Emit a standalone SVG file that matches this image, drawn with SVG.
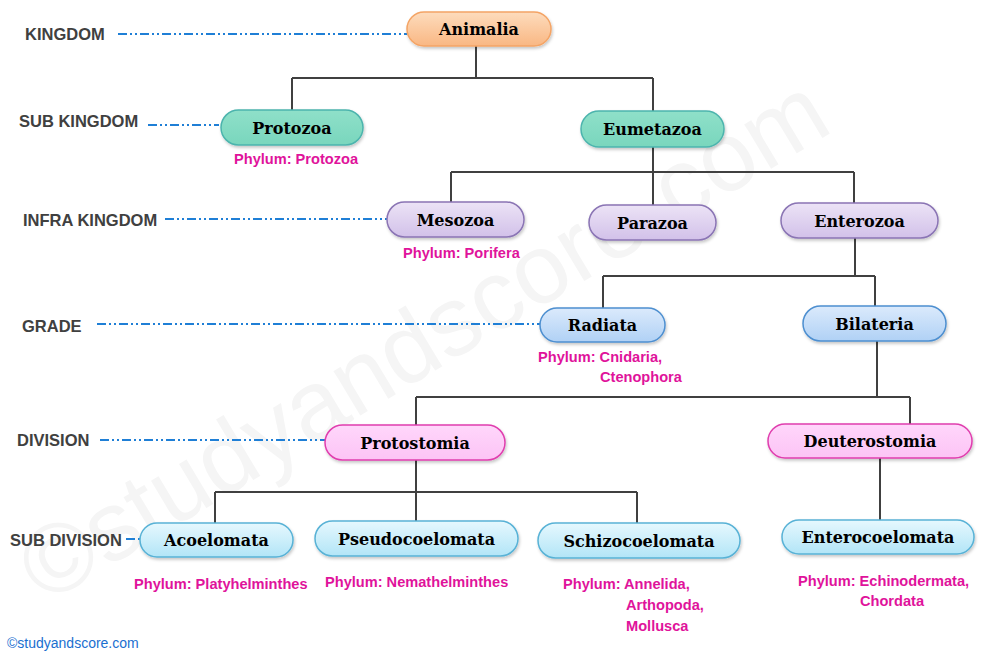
<svg xmlns="http://www.w3.org/2000/svg" width="990" height="659" viewBox="0 0 990 659">
<defs>
<linearGradient id="gOrange" x1="0" y1="0" x2="0" y2="1"><stop offset="0" stop-color="#fddcbd"/><stop offset="1" stop-color="#f9b783"/></linearGradient>
<linearGradient id="gTeal" x1="0" y1="0" x2="0" y2="1"><stop offset="0" stop-color="#8fe0c9"/><stop offset="1" stop-color="#79d6bd"/></linearGradient>
<linearGradient id="gPurple" x1="0" y1="0" x2="0" y2="1"><stop offset="0" stop-color="#ece3f6"/><stop offset="1" stop-color="#d2c1e9"/></linearGradient>
<linearGradient id="gBlue" x1="0" y1="0" x2="0" y2="1"><stop offset="0" stop-color="#dbeafc"/><stop offset="1" stop-color="#b0d1f5"/></linearGradient>
<linearGradient id="gPink" x1="0" y1="0" x2="0" y2="1"><stop offset="0" stop-color="#ffd6fb"/><stop offset="1" stop-color="#fcc4f5"/></linearGradient>
<linearGradient id="gCyan" x1="0" y1="0" x2="0" y2="1"><stop offset="0" stop-color="#e6f8fe"/><stop offset="1" stop-color="#b2e5f7"/></linearGradient>
<filter id="sh" x="-10%" y="-30%" width="120%" height="170%"><feDropShadow dx="1" dy="2" stdDeviation="1.5" flood-color="#000" flood-opacity="0.22"/></filter>
</defs>
<style>
.node rect{stroke-width:1.5;filter:url(#sh)}
.nt{font-family:"DejaVu Serif","Liberation Serif",serif;font-weight:bold;font-size:16px;fill:#000;text-anchor:middle}
.lvl{font-family:"Liberation Sans",Arial,sans-serif;font-weight:bold;font-size:16.5px;fill:#404040}
.ph{font-family:"Liberation Sans",Arial,sans-serif;font-weight:bold;font-size:14.6px;fill:#e0139b}
.dd{stroke:#1f7fd6;stroke-width:2;fill:none;stroke-dasharray:9 3 2 3 2 3}
.cn{stroke:#404040;stroke-width:2;fill:none}
.orange{fill:url(#gOrange);stroke:#f4a465}
.teal{fill:url(#gTeal);stroke:#4cb4ad}
.purple{fill:url(#gPurple);stroke:#8a74b4}
.blue{fill:url(#gBlue);stroke:#4d8fd0}
.pink{fill:url(#gPink);stroke:#e03eae}
.cyan{fill:url(#gCyan);stroke:#58b2d6}
</style>
<rect width="990" height="659" fill="#ffffff"/>
<text x="45" y="605" transform="rotate(-31 45 605)" font-family="Liberation Sans,Arial,sans-serif" font-size="98" fill="#f5f5f5">©studyandscore.com</text>

<g id="levels">
<text class="lvl" x="25" y="40">KINGDOM</text>
<text class="lvl" x="19" y="127">SUB KINGDOM</text>
<text class="lvl" x="23" y="226">INFRA KINGDOM</text>
<text class="lvl" x="22" y="332">GRADE</text>
<text class="lvl" x="17" y="446">DIVISION</text>
<text class="lvl" x="10" y="546">SUB DIVISION</text>
<path class="dd" d="M118 34H407M148 125H219M165 219H387M97 324H540M100 440H325M126 539H140"/>
</g>

<g id="connectors">
<path class="cn" d="M476 46V78M292 78H653M292 78V110M653 78V111"/>
<path class="cn" d="M653 147V172M451 172H854M451 172V202M653 172V205M854 172V203"/>
<path class="cn" d="M855 238V276M603 276H875M603 276V308M875 276V306"/>
<path class="cn" d="M877 341V397M416 397H910M416 397V425M910 397V424"/>
<path class="cn" d="M416 460V492M215 492H637M215 492V523M416 492V521M637 492V523"/>
<path class="cn" d="M880 458V520"/>
</g>

<g id="animalia" class="node"><rect class="orange" x="407" y="12" width="144" height="34" rx="17"/><text class="nt" x="479" y="35">Animalia</text></g>
<g id="protozoa" class="node"><rect class="teal" x="221" y="110" width="142" height="35" rx="17.5"/><text class="nt" x="292" y="133.5">Protozoa</text></g>
<g id="eumetazoa" class="node"><rect class="teal" x="581" y="111" width="143" height="36" rx="18"/><text class="nt" x="652.5" y="135">Eumetazoa</text></g>
<g id="mesozoa" class="node"><rect class="purple" x="387" y="202" width="137" height="35" rx="17.5"/><text class="nt" x="455.5" y="225.5">Mesozoa</text></g>
<g id="parazoa" class="node"><rect class="purple" x="589" y="205" width="127" height="35" rx="17.5"/><text class="nt" x="652.5" y="228.5">Parazoa</text></g>
<g id="enterozoa" class="node"><rect class="purple" x="781" y="203" width="157" height="35" rx="17.5"/><text class="nt" x="859.5" y="226.5">Enterozoa</text></g>
<g id="radiata" class="node"><rect class="blue" x="540" y="308" width="125" height="34" rx="17"/><text class="nt" x="602.5" y="331">Radiata</text></g>
<g id="bilateria" class="node"><rect class="blue" x="803" y="306" width="143" height="35" rx="17.5"/><text class="nt" x="874.5" y="329.5">Bilateria</text></g>
<g id="protostomia" class="node"><rect class="pink" x="325" y="425" width="180" height="35" rx="17.5"/><text class="nt" x="415" y="448.5">Protostomia</text></g>
<g id="deuterostomia" class="node"><rect class="pink" x="768" y="424" width="204" height="34" rx="17"/><text class="nt" x="870" y="447">Deuterostomia</text></g>
<g id="acoelomata" class="node"><rect class="cyan" x="140" y="523" width="153" height="34" rx="17"/><text class="nt" x="216.5" y="546">Acoelomata</text></g>
<g id="pseudocoelomata" class="node"><rect class="cyan" x="315" y="521" width="203" height="35" rx="17.5"/><text class="nt" x="416.5" y="544.5">Pseudocoelomata</text></g>
<g id="schizocoelomata" class="node"><rect class="cyan" x="538" y="523" width="202" height="35" rx="17.5"/><text class="nt" x="639" y="546.5">Schizocoelomata</text></g>
<g id="enterocoelomata" class="node"><rect class="cyan" x="782" y="520" width="192" height="34" rx="17"/><text class="nt" x="878" y="543">Enterocoelomata</text></g>

<g id="phyla">
<text class="ph" x="234" y="164">Phylum: Protozoa</text>
<text class="ph" x="403" y="258">Phylum: Porifera</text>
<text class="ph" x="538" y="362">Phylum: Cnidaria,</text>
<text class="ph" x="600" y="382">Ctenophora</text>
<text class="ph" x="134" y="589">Phylum: Platyhelminthes</text>
<text class="ph" x="325" y="587">Phylum: Nemathelminthes</text>
<text class="ph" x="563" y="589">Phylum: Annelida,</text>
<text class="ph" x="626" y="610">Arthopoda,</text>
<text class="ph" x="626" y="631">Mollusca</text>
<text class="ph" x="798" y="586">Phylum: Echinodermata,</text>
<text class="ph" x="860" y="606">Chordata</text>
</g>
<text x="7" y="648" font-family="Liberation Sans,Arial,sans-serif" font-size="14" fill="#1a6fd0">©studyandscore.com</text>
</svg>
